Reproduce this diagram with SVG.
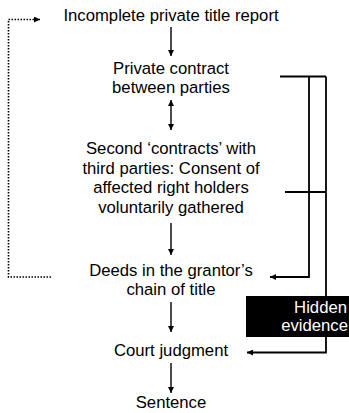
<svg xmlns="http://www.w3.org/2000/svg" width="349" height="413" viewBox="0 0 349 413">
<style>
text{font-family:"Liberation Sans",Arial,sans-serif;font-size:16.7px;fill:#000;text-anchor:middle}
.ln{stroke:#000;stroke-width:1.4;fill:none}
.br{stroke:#000;stroke-width:1.8;fill:none}
.dot{stroke:#000;stroke-width:1.6;fill:none;stroke-dasharray:1.5 1.5}
.hid{fill:#fff;text-anchor:end}
</style>
<defs>
<marker id="ah" viewBox="0 0 8 8" refX="8" refY="4" markerWidth="6" markerHeight="6" markerUnits="userSpaceOnUse" orient="auto-start-reverse">
<path d="M0,0 L8,4 L0,8 z" fill="#000"/>
</marker>
</defs>
<g id="connectors">
<line class="ln" x1="171" y1="27" x2="171" y2="56" marker-end="url(#ah)"/>
<line class="ln" x1="171" y1="100" x2="171" y2="130" marker-start="url(#ah)" marker-end="url(#ah)"/>
<line class="ln" x1="171" y1="223" x2="171" y2="255" marker-end="url(#ah)"/>
<line class="ln" x1="171" y1="302" x2="171" y2="332" marker-end="url(#ah)"/>
<line class="ln" x1="171" y1="363" x2="171" y2="393" marker-end="url(#ah)"/>
<line class="br" x1="280" y1="76.5" x2="326" y2="76.5"/>
<line class="br" x1="285" y1="192" x2="326" y2="192"/>
<polyline class="br" points="309,76.5 309,277 270,277" marker-end="url(#ah)"/>
<polyline class="br" points="326,76.5 326,352.5 247,352.5" marker-end="url(#ah)"/>
<polyline class="dot" points="51,277 8.5,277 8.5,19.5 40,19.5" marker-end="url(#ah)"/>
</g>
<g id="n1"><text x="171" y="21">Incomplete private title report</text></g>
<g id="n2"><text x="171" y="74">Private contract</text><text x="171" y="93">between parties</text></g>
<g id="n3"><text x="171" y="154">Second ‘contracts’ with</text><text x="171" y="173.5">third parties: Consent of</text><text x="171" y="193">affected right holders</text><text x="171" y="212.5">voluntarily gathered</text></g>
<g id="n4"><text x="171" y="276">Deeds in the grantor’s</text><text x="171" y="295">chain of title</text></g>
<g id="n5"><rect x="246" y="296" width="103" height="41" fill="#000"/><text class="hid" x="347" y="313">Hidden</text><text class="hid" x="348" y="331">evidence</text></g>
<g id="n6"><text x="171" y="356">Court judgment</text></g>
<g id="n7"><text x="171" y="408">Sentence</text></g>
</svg>
